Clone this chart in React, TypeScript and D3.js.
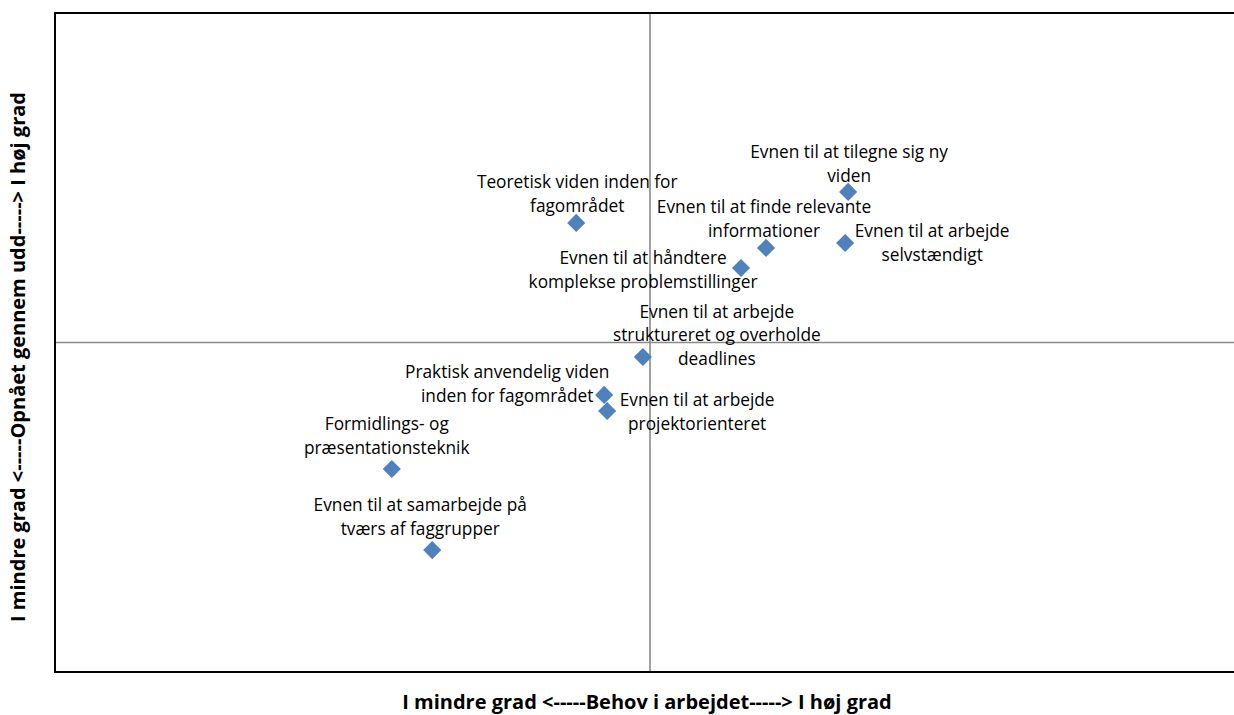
import React from "react";
import * as d3 from "d3";

// Data
const labels: string[][] = [
  ["Teoretisk viden inden for", "fagområdet"],
  ["Evnen til at tilegne sig ny", "viden"],
  ["Evnen til at finde relevante", "informationer"],
  ["Evnen til at arbejde", "selvstændigt"],
  ["Evnen til at håndtere", "komplekse problemstillinger"],
  ["Evnen til at arbejde", "struktureret og overholde", "deadlines"],
  ["Praktisk anvendelig viden", "inden for fagområdet"],
  ["Evnen til at arbejde", "projektorienteret"],
  ["Formidlings- og", "præsentationsteknik"],
  ["Evnen til at samarbejde på", "tværs af faggrupper"],
];
const behov: number[] = [-0.124, 0.333, 0.195, 0.328, 0.153, -0.012, -0.077, -0.072, -0.434, -0.366];
const opnaaet: number[] = [0.363, 0.457, 0.287, 0.302, 0.226, -0.044, -0.159, -0.208, -0.384, -0.63];

const xTitle = "I mindre grad <-----Behov i arbejdet-----> I høj grad";
const yTitle = "I mindre grad <-----Opnået gennem udd-----> I høj grad";

// Layout of data labels: center offset of label block relative to marker (px)
const labelOffset: [number, number][] = [
  [1, -29],
  [1, -28],
  [-2, -29],
  [87, 0],
  [-98, 2],
  [74, -22],
  [-97, -11],
  [90, 1],
  [-5, -33],
  [-12, -33],
];

const W = 1234;
const H = 715;
const left = 55;
const top = 13;
const bottom = 672;
const right = 1245;

export default function App() {
  const x = d3.scaleLinear().domain([-1, 1]).range([left, right]);
  const y = d3.scaleLinear().domain([-1, 1]).range([bottom, top]);
  const font = "'Open Sans', Calibri, Carlito, Lato, sans-serif";
  const fs = 17.3;
  const lh = 23.5;
  const diamond = d3.symbol().type(d3.symbolDiamond2).size(210)();
  return (
    <svg width={W} height={H} style={{ position: "fixed", left: 0, top: 0, background: "#fff" }}>
      <rect x={0} y={0} width={W} height={H} fill="#fff" />
      <line x1={x(0)} x2={x(0)} y1={top} y2={bottom} stroke="#898989" strokeWidth={1.6} />
      <line x1={left} x2={W} y1={y(0)} y2={y(0)} stroke="#898989" strokeWidth={1.6} />
      <rect x={left} y={top} width={right - left} height={bottom - top} fill="none" stroke="#000" strokeWidth={2} />
      {behov.map((b, i) => {
        const cx = x(b);
        const cy = y(opnaaet[i]);
        const lines = labels[i];
        const [dx, dy] = labelOffset[i];
        const n = lines.length;
        return (
          <g key={i}>
            <path d={diamond!} transform={`translate(${cx},${cy})`} fill="#4f81bd" />
            <text fontFamily={font} fontSize={fs} fill="#000" textAnchor="middle">
              {lines.map((l, j) => (
                <tspan key={j} x={cx + dx} y={cy + dy + (j - (n - 1) / 2) * lh} dy="0.35em">
                  {l}
                </tspan>
              ))}
            </text>
          </g>
        );
      })}
      <text x={647} y={702} dy="0.35em" textAnchor="middle" fontFamily={font} fontSize={20} fontWeight="bold">
        {xTitle}
      </text>
      <text
        transform={`translate(18,357) rotate(-90)`}
        dy="0.35em"
        textAnchor="middle"
        fontFamily={font}
        fontSize={20}
        fontWeight="bold"
      >
        {yTitle}
      </text>
    </svg>
  );
}
